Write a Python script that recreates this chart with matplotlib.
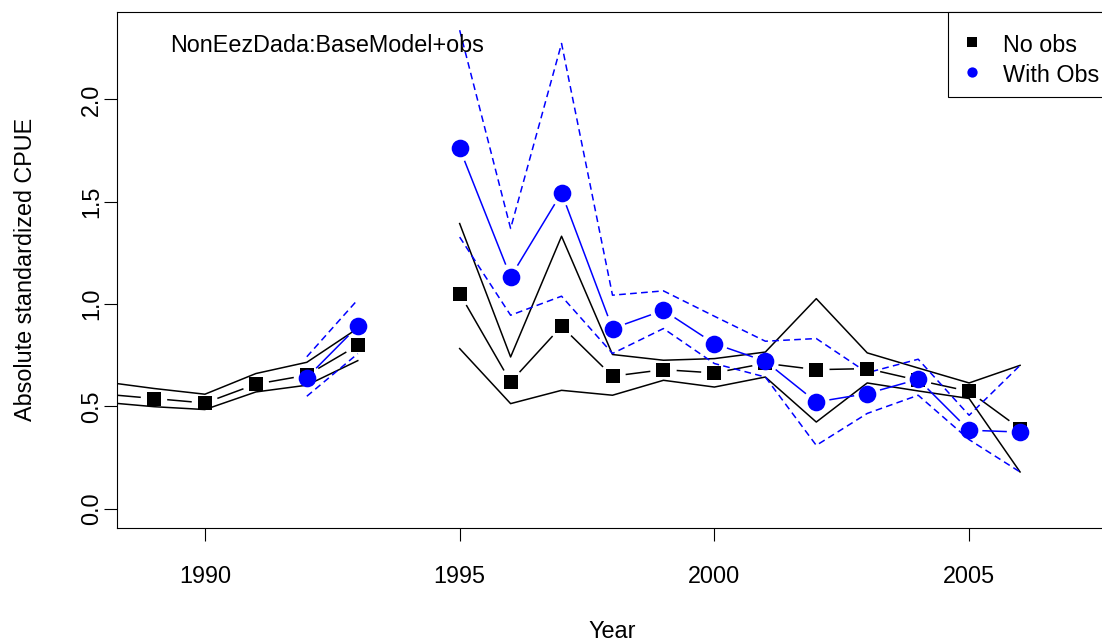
import numpy as np
import matplotlib
matplotlib.use("Agg")
import matplotlib.pyplot as plt
from matplotlib.patches import Rectangle

nan = np.nan
years = [1988, 1989, 1990, 1991, 1992, 1993, 1994, 1995, 1996, 1997, 1998,
         1999, 2000, 2001, 2002, 2003, 2004, 2005, 2006]

noobs_mean = [0.56, 0.538, 0.516, 0.608, 0.652, 0.798, nan, 1.051, 0.619, 0.891, 0.647,
              0.679, 0.663, 0.710, 0.679, 0.684, 0.627, 0.573, 0.391]
noobs_upper = [0.62, 0.587, 0.559, 0.660, 0.715, 0.881, nan, 1.393, 0.741, 1.331, 0.753,
               0.725, 0.733, 0.765, 1.026, 0.761, 0.687, 0.614, 0.700]
noobs_lower = [0.52, 0.498, 0.484, 0.570, 0.603, 0.723, nan, 0.782, 0.513, 0.578, 0.554,
               0.627, 0.594, 0.643, 0.423, 0.614, 0.575, 0.538, 0.179]

obs_mean = [nan, nan, nan, nan, 0.640, 0.891, nan, 1.760, 1.132, 1.543, 0.880,
            0.969, 0.806, 0.720, 0.521, 0.562, 0.632, 0.383, 0.374]
obs_upper = [nan, nan, nan, nan, 0.742, 1.021, nan, 2.338, 1.369, 2.273, 1.043,
             1.064, 0.940, 0.818, 0.831, 0.664, 0.730, 0.456, 0.700]
obs_lower = [nan, nan, nan, nan, 0.549, 0.757, nan, 1.327, 0.945, 1.038, 0.758,
             0.880, 0.709, 0.643, 0.309, 0.465, 0.554, 0.337, 0.179]

xticks = [1990, 1995, 2000, 2005]
yticks = [0.0, 0.5, 1.0, 1.5, 2.0]
ytick_labels = ["0.0", "0.5", "1.0", "1.5", "2.0"]
title_text = "NonEezDada:BaseModel+obs"
legend_labels = ["No obs", "With Obs"]

FS = 16.8
plt.rcParams['font.family'] = ['Liberation Sans', 'DejaVu Sans']

W, H = 1102, 643
fig = plt.figure(figsize=(W / 100, H / 100), dpi=100)
L, R, T, B = 117.3, 1107.7, 11.7, 527.7
ax = fig.add_axes([L / W, (H - B) / H, (R - L) / W, (B - T) / H])
ax.set_xlim(1988.28, 2007.72)
ax.set_ylim(-0.0934, 2.4284)

for s in ax.spines.values():
    s.set_linewidth(0.8)

LW = 1.1


def b_segments(x, y, gap_px):
    """Shortened segments (R type='b') in data coords."""
    x = np.asarray(x, float)
    y = np.asarray(y, float)
    pts = ax.transData.transform(np.column_stack([x, y]))
    inv = ax.transData.inverted()
    xs, ys = [], []
    for i in range(len(x) - 1):
        if np.isnan(y[i]) or np.isnan(y[i + 1]):
            continue
        p0, p1 = pts[i], pts[i + 1]
        d = p1 - p0
        n = np.hypot(*d)
        if n <= 2 * gap_px:
            continue
        u = d / n
        a = inv.transform(p0 + u * gap_px)
        b = inv.transform(p1 - u * gap_px)
        xs += [a[0], b[0], nan]
        ys += [a[1], b[1], nan]
    return xs, ys


# No obs: bounds solid black, mean type b with squares
ax.plot(years, noobs_upper, color='black', lw=LW, zorder=2)
ax.plot(years, noobs_lower, color='black', lw=LW, zorder=2)
sx, sy = b_segments(years, noobs_mean, 14)
ax.plot(sx, sy, color='black', lw=LW, zorder=2)
ax.plot(years, noobs_mean, ls='none', marker='s', ms=9.6, mew=0,
        color='black', zorder=3)

# With obs: bounds dashed blue, mean type b with circles
dash = (0, (4.4, 2.8))
ax.plot(years, obs_upper, color='#0000FF', lw=LW, ls=dash, zorder=2)
ax.plot(years, obs_lower, color='#0000FF', lw=LW, ls=dash, zorder=2)
bx, by = b_segments(years, obs_mean, 14)
ax.plot(bx, by, color='#0000FF', lw=LW, zorder=2)
ax.plot(years, obs_mean, ls='none', marker='o', ms=12.7, mew=0,
        color='#0000FF', zorder=4)

ax.set_xticks(xticks)
ax.set_xticklabels([str(v) for v in xticks], fontsize=FS)
ax.set_yticks(yticks)
ax.set_yticklabels(ytick_labels, fontsize=FS, rotation=90, va='center')
ax.tick_params(axis='x', length=9.4, width=0.8, pad=17.5)
ax.tick_params(axis='y', length=9.4, width=0.8, pad=0.8)

ax.set_xlabel("Year", fontsize=FS)
ax.set_ylabel("Absolute standardized CPUE", fontsize=FS)
ax.xaxis.label.set_va('baseline')
ax.xaxis.set_label_coords(0.5, (B - 637.5) / (B - T))
ax.yaxis.set_label_coords((37.0 - L) / (R - L), 0.5)


def axfrac(px, py):
    return (px - L) / (R - L), (B - py) / (B - T)


tx, ty = axfrac(327.5, 51.7)
ax.text(tx, ty, title_text, transform=ax.transAxes, ha='center',
        va='baseline', fontsize=FS)

# legend (top right, R style)
x0, y0 = axfrac(948, 97.3)
ax.add_patch(Rectangle((x0, y0), 1.0 - x0, 1.0 - y0, transform=ax.transAxes,
                       facecolor='white', edgecolor='black', lw=0.8,
                       zorder=6, clip_on=False))
mx, my1 = axfrac(971.7, 42.3)
_, my2 = axfrac(971.7, 71.7)
ax.plot([mx], [my1], marker='s', ms=7.2, mew=0, color='black',
        transform=ax.transAxes, zorder=7, clip_on=False)
ax.plot([mx], [my2], marker='o', ms=7.4, mew=0, color='#0000FF',
        transform=ax.transAxes, zorder=7, clip_on=False)
lx, ly1 = axfrac(1002.7, 52.5)
_, ly2 = axfrac(1002.7, 81.5)
ax.text(lx, ly1, legend_labels[0], transform=ax.transAxes, ha='left',
        va='baseline', fontsize=FS, zorder=8)
ax.text(lx, ly2, legend_labels[1], transform=ax.transAxes, ha='left',
        va='baseline', fontsize=FS, zorder=8)

fig.savefig("out.png", dpi=100)
